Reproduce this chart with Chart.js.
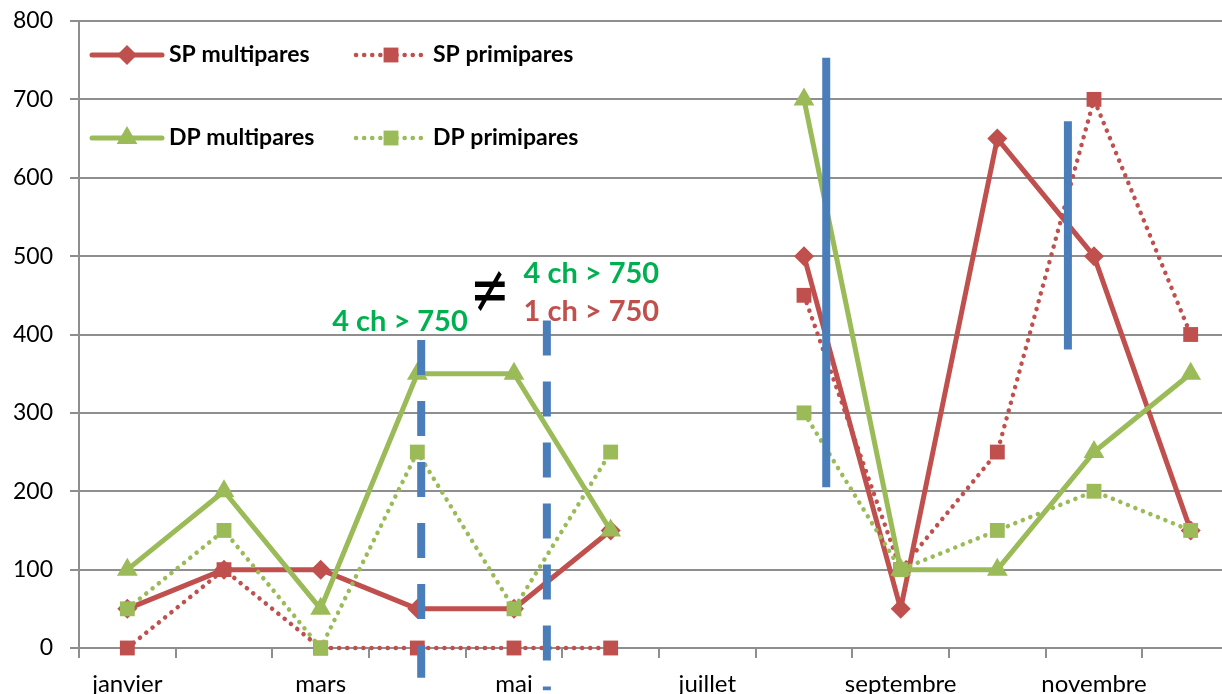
<!DOCTYPE html>
<html lang="fr">
<head>
<meta charset="utf-8">
<title>SP / DP multipares et primipares</title>
<script src="https://cdn.jsdelivr.net/npm/chart.js@4.4.1/dist/chart.umd.min.js"></script>
<style>
  html, body { margin: 0; padding: 0; background: #fff; overflow: hidden; }
  /* the original picture is cut on its right side, so the chart is a bit wider than the window */
  #wrap { position: relative; width: 1251px; height: 694px; }
</style>
</head>
<body>
<div id="wrap"><canvas id="lineChart"></canvas></div>
<script>
// Months on the category axis (every other one is labelled, like the original)
var months = ['janvier', 'février', 'mars', 'avril', 'mai', 'juin', 'juillet',
              'août', 'septembre', 'octobre', 'novembre', 'décembre'];

// Series values, null = nothing in july
var spMultipares = [50, 100, 100, 50, 50, 150, null, 500, 50, 650, 500, 150];
var spPrimipares = [0, 100, 0, 0, 0, 0, null, 450, 100, 250, 700, 400];
var dpMultipares = [100, 200, 50, 350, 350, 150, null, 700, 100, 100, 250, 350];
var dpPrimipares = [50, 150, 0, 250, 50, 250, null, 300, 100, 150, 200, 150];

// Value axis
var yMin = 0;
var yMax = 800;
var yStep = 100;

var RED = '#C0504D';
var GREEN = '#9BBB59';
var BLUE = '#4A7EBB';
var GRID = '#8E8E8E';

// Blue bars drawn over the chart, in axis units (x = month index, y = value)
var blueBars = [
    { x: 3.04, from: 393, to: -38, dashed: true },
    { x: 4.34, from: 418, to: -54, dashed: true },
    { x: 7.23, from: 753, to: 205, dashed: false },
    { x: 9.73, from: 672, to: 381, dashed: false }
];

// Text notes, also in axis units (y is the text baseline)
var notes = [
    { text: '4 ch > 750', x: 2.82, y: 405, color: '#00B050' },
    { text: '4 ch > 750', x: 4.80, y: 466, color: '#00B050' },
    { text: '1 ch > 750', x: 4.80, y: 417, color: RED }
];
var notEqual = { text: '\u2260', x: 3.75, y: 451 };


function drawMarker(ctx, style, x, y, r, color) {
    ctx.save();
    ctx.fillStyle = color;
    ctx.beginPath();
    if (style === 'rectRot') {
        ctx.moveTo(x, y - r);
        ctx.lineTo(x + r, y);
        ctx.lineTo(x, y + r);
        ctx.lineTo(x - r, y);
    } else if (style === 'triangle') {
        ctx.moveTo(x, y - r);
        ctx.lineTo(x + r * 0.866, y + r * 0.5);
        ctx.lineTo(x - r * 0.866, y + r * 0.5);
    } else {
        var h = r * Math.SQRT1_2;
        ctx.rect(x - h, y - h, 2 * h, 2 * h);
    }
    ctx.closePath();
    ctx.fill();
    ctx.restore();
}

// Legend sits inside the plot, two columns
var insideLegend = {
    id: 'insideLegend',
    afterDatasetsDraw: function(chart) {
        var ctx = chart.ctx;
        var area = chart.chartArea;
        var colX = [area.left + 13, area.left + 277];
        var rowY = [area.top + 34, area.top + 117];
        chart.data.datasets.forEach(function(ds, i) {
            var x0 = colX[i % 2];
            var y = rowY[Math.floor(i / 2)];
            ctx.save();
            ctx.strokeStyle = ds.borderColor;
            ctx.lineWidth = ds.borderWidth;
            ctx.lineCap = 'round';
            ctx.setLineDash(ds.borderDash || []);
            ctx.beginPath();
            ctx.moveTo(x0, y);
            ctx.lineTo(x0 + 70, y);
            ctx.stroke();
            ctx.restore();
            drawMarker(ctx, ds.pointStyle, x0 + 35, y, ds.pointRadius, ds.borderColor);
            ctx.save();
            ctx.fillStyle = '#000';
            ctx.font = 'bold 23px Lato';
            ctx.textAlign = 'left';
            ctx.textBaseline = 'middle';
            ctx.fillText(ds.label, x0 + 77, y);
            ctx.restore();
        });
    }
};

// Blue bars and the text notes
var overlays = {
    id: 'overlays',
    afterDraw: function(chart) {
        var ctx = chart.ctx;
        var xs = chart.scales.x;
        var ys = chart.scales.y;
        blueBars.forEach(function(b) {
            var x = xs.getPixelForValue(b.x);
            ctx.save();
            ctx.strokeStyle = BLUE;
            ctx.lineWidth = 8;
            ctx.lineCap = 'butt';
            ctx.setLineDash(b.dashed ? [35, 26] : []);
            ctx.beginPath();
            ctx.moveTo(x, ys.getPixelForValue(b.from));
            ctx.lineTo(x, ys.getPixelForValue(b.to));
            ctx.stroke();
            ctx.restore();
        });
        notes.forEach(function(n) {
            ctx.save();
            ctx.fillStyle = n.color;
            ctx.font = 'bold 29px Lato';
            ctx.textAlign = 'center';
            ctx.textBaseline = 'alphabetic';
            ctx.fillText(n.text, xs.getPixelForValue(n.x), ys.getPixelForValue(n.y));
            ctx.restore();
        });
        // the "not equal" sign is taller than wide in the original
        ctx.save();
        ctx.translate(xs.getPixelForValue(notEqual.x), ys.getPixelForValue(notEqual.y));
        ctx.scale(0.95, 1.35);
        ctx.fillStyle = '#000';
        ctx.font = '50px "DejaVu Sans"';
        ctx.textAlign = 'center';
        ctx.textBaseline = 'middle';
        ctx.fillText(notEqual.text, 0, 0);
        ctx.restore();
    }
};

function makeSeries(label, values, color, dotted, style, radius, order) {
    return {
        label: label,
        data: values,
        borderColor: color,
        backgroundColor: color,
        borderWidth: dotted ? 4.5 : 5,
        borderDash: dotted ? [0.1, 8] : [],
        borderCapStyle: 'round',
        borderJoinStyle: 'round',
        pointStyle: style,
        pointRadius: radius,
        pointHoverRadius: radius,
        pointBorderWidth: 0,
        pointBackgroundColor: color,
        tension: 0,
        spanGaps: false,
        clip: false,
        order: order
    };
}

function initializeLineChart() {
    Chart.defaults.font.family = 'Lato';
    Chart.defaults.color = '#000';

    var ctx = document.getElementById('lineChart').getContext('2d');
    new Chart(ctx, {
        type: 'line',
        data: {
            labels: months,
            datasets: [
                makeSeries('SP multipares', spMultipares, RED, false, 'rectRot', 10, 4),
                makeSeries('SP primipares', spPrimipares, RED, true, 'rect', 10.5, 3),
                makeSeries('DP multipares', dpMultipares, GREEN, false, 'triangle', 12, 2),
                makeSeries('DP primipares', dpPrimipares, GREEN, true, 'rect', 10.5, 1)
            ]
        },
        options: {
            responsive: true,
            maintainAspectRatio: false,
            animation: false,
            layout: { padding: { top: 21, right: 1, bottom: 0, left: 0 } },
            plugins: {
                legend: { display: false },
                tooltip: { enabled: false }
            },
            scales: {
                x: {
                    offset: true,
                    grid: {
                        offset: true,
                        drawOnChartArea: false,
                        drawTicks: true,
                        tickLength: 10,
                        color: GRID,
                        lineWidth: 2
                    },
                    border: { display: true, color: GRID, width: 2 },
                    ticks: {
                        autoSkip: false,
                        maxRotation: 0,
                        padding: 12,
                        font: { size: 24 },
                        callback: function(value, index) {
                            return index % 2 === 0 ? this.getLabelForValue(value) : '';
                        }
                    },
                    afterFit: function(scale) { scale.height = 46; }
                },
                y: {
                    min: yMin,
                    max: yMax,
                    grid: {
                        color: GRID,
                        lineWidth: 2,
                        drawTicks: true,
                        tickLength: 9
                    },
                    border: { display: true, color: GRID, width: 2 },
                    ticks: {
                        stepSize: yStep,
                        padding: 17,
                        font: { size: 23 }
                    },
                    afterFit: function(scale) {
                        // fixed axis width; the tick padding should not push the plot down
                        scale.width = 79;
                        scale.paddingTop = 0;
                        scale.paddingBottom = 0;
                    }
                }
            }
        },
        plugins: [insideLegend, overlays]
    });
}

document.addEventListener('DOMContentLoaded', initializeLineChart);
</script>
</body>
</html>
